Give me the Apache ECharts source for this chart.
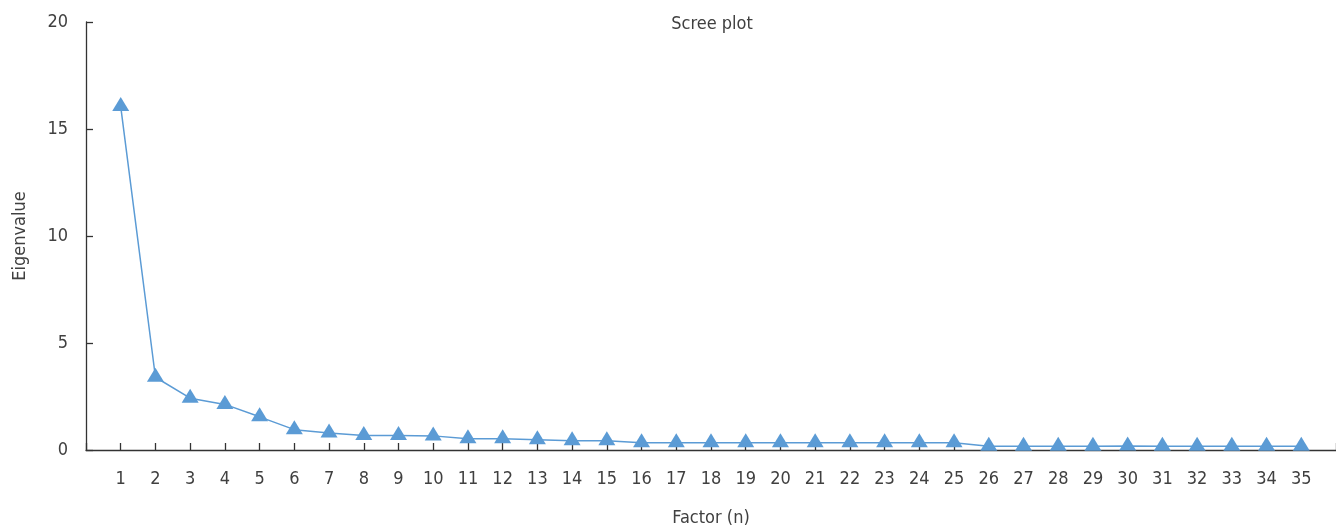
<!DOCTYPE html>
<html>
<head>
<meta charset="utf-8">
<script src="https://cdn.jsdelivr.net/npm/echarts@6/dist/echarts.min.js"></script>
<style>
html,body{margin:0;padding:0;background:#fff;}
#chart{width:1336px;height:528px;}
</style>
</head>
<body>
<div id="chart"></div>
<script>
const factors = [1,2,3,4,5,6,7,8,9,10,11,12,13,14,15,16,17,18,19,20,21,22,23,24,25,26,27,28,29,30,31,32,33,34,35];
const eigenvalues = [16.05,3.4,2.42,2.13,1.55,0.95,0.8,0.68,0.68,0.66,0.52,0.52,0.48,0.43,0.43,0.34,0.34,0.34,0.34,0.34,0.34,0.34,0.34,0.34,0.34,0.17,0.17,0.17,0.17,0.19,0.17,0.17,0.17,0.17,0.17];
const yTicks = [0,5,10,15,20];

const FONT = '"Liberation Sans Narrow","DejaVu Sans Condensed",Roboto,sans-serif';
const TXT = '#404040';
const chart = echarts.init(document.getElementById('chart'), null, {renderer:'canvas'});
chart.setOption({
  animation:false,
  title:{text:'Scree plot', left:707, textAlign:'center', top:10,
    textStyle:{fontFamily:FONT, fontSize:18, fontWeight:'normal', color:TXT}},
  grid:{left:86, right:0, top:22, bottom:78, containLabel:false, outerBoundsMode:'none'},
  xAxis:{type:'value', min:0, max:36, interval:1,
    name:'Factor (n)', nameLocation:'middle', nameGap:59,
    nameTextStyle:{fontFamily:FONT, fontSize:18, color:TXT},
    axisLine:{lineStyle:{color:'#333', width:1.3}},
    axisTick:{inside:true, length:7, lineStyle:{color:'#333', width:1.3}},
    splitLine:{show:false},
    axisLabel:{margin:20, fontFamily:FONT, fontSize:18, color:TXT,
      formatter:v => factors.indexOf(v) >= 0 ? String(v) : ''}},
  yAxis:{type:'value', min:yTicks[0], max:yTicks[yTicks.length-1], interval:5,
    name:'Eigenvalue', nameLocation:'middle', nameGap:57, nameRotate:90,
    nameTextStyle:{fontFamily:FONT, fontSize:18, color:TXT},
    axisLine:{show:true, lineStyle:{color:'#333', width:1.3}},
    axisTick:{show:true, inside:true, length:7, lineStyle:{color:'#333', width:1.3}},
    splitLine:{show:false},
    axisLabel:{margin:18, fontFamily:FONT, fontSize:18, color:TXT}},
  series:[{type:'line', data:factors.map((f,i)=>[f, eigenvalues[i]]),
    symbol:'triangle', symbolSize:[17,14], symbolOffset:[0,-2.5],
    lineStyle:{color:'#5b9bd5', width:1.5},
    itemStyle:{color:'#5b9bd5', borderWidth:0}}]
});
</script>
</body>
</html>
